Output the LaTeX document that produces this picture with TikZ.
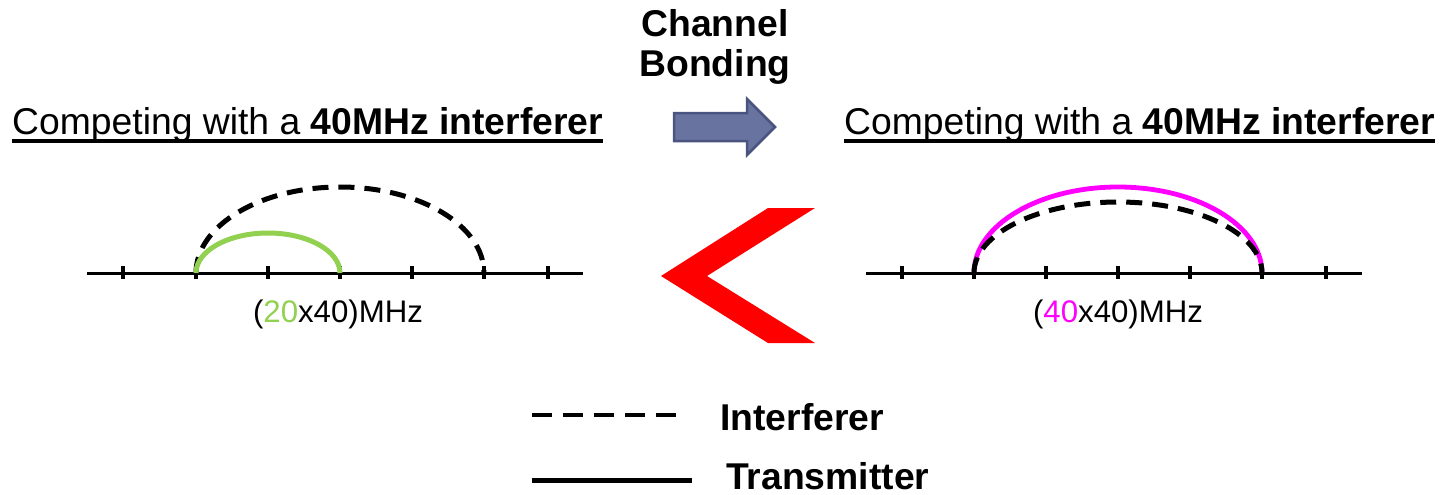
\documentclass[tikz,border=0pt]{standalone}
\usepackage{fontspec}
\setmainfont{Liberation Sans}
\definecolor{txgreen}{RGB}{146,208,80}
\definecolor{txmag}{RGB}{255,0,255}
\definecolor{arrfill}{RGB}{104,115,160}
\definecolor{arrdraw}{RGB}{74,84,126}
\tikzset{
  big/.style={font=\fontsize{37.3}{44}\selectfont, inner sep=0pt},
  small/.style={font=\fontsize{31.2}{36}\selectfont, inner sep=0pt},
  axisline/.style={line width=3pt},
  tick/.style={line width=3.8pt},
  interf/.style={line width=5pt, dash pattern=on 16pt off 10pt},
  ulinestyle/.style={line width=3.8pt},
}
\begin{document}
\begin{tikzpicture}[x=1pt,y=-1pt]
\useasboundingbox (0,0) rectangle (1443,495);

% titles
\node[big, anchor=base west] (ttlL) at (12,134) {Competing with a \textbf{40MHz interferer}};
\draw[ulinestyle] ([yshift=-7pt]ttlL.base west) -- ([yshift=-7pt]ttlL.base east);
\node[big, anchor=base west] (ttlR) at (844,134) {Competing with a \textbf{40MHz interferer}};
\draw[ulinestyle] ([yshift=-7pt]ttlR.base west) -- ([yshift=-7pt]ttlR.base east);

% channel bonding
\node[big, anchor=base] (cb1) at (715,37) {\textbf{Channel}};
\node[big, anchor=base] (cb2) at (715,77) {\textbf{Bonding}};
\draw[fill=arrfill, draw=arrdraw, line width=2.5pt, line join=miter]
  (674,113) -- (747,113) -- (747,99) -- (775,127) -- (747,155) -- (747,141) -- (674,141) -- cycle;

% red chevron
\fill[red] (768,208) -- (815,208) -- (707,276) -- (815,343) -- (768,343) -- (661,276) -- cycle;

% left axis
\draw[axisline] (87,273) -- (583,273);
\foreach \x in {123,196,268,340,412,484,548} \draw[tick] (\x,266) -- (\x,279);
\draw[interf] (196,273) arc[start angle=180, end angle=0, x radius=144pt, y radius=86pt];
\draw[txgreen, line width=5pt] (196,273) arc[start angle=180, end angle=0, x radius=72pt, y radius=40pt];
\node[small, anchor=base] (lblL) at (338,322) {(\textcolor{txgreen}{20}x40)MHz};

% right axis
\draw[axisline] (866,273) -- (1362,273);
\foreach \x in {902,974,1046,1118,1190,1262,1326} \draw[tick] (\x,266) -- (\x,279);
\draw[txmag, line width=4.8pt] (974,273) arc[start angle=180, end angle=0, x radius=144pt, y radius=86pt];
\draw[interf] (974,273) arc[start angle=180, end angle=0, x radius=144pt, y radius=71pt];
\node[small, anchor=base] (lblR) at (1118,322) {(\textcolor{txmag}{40}x40)MHz};

% legend
\coordinate (l1a) at (532,415);
\coordinate (l1b) at (677,415);
\coordinate (l2a) at (532,480);
\coordinate (l2b) at (692,480);
\draw[line width=4.8pt, dash pattern=on 20pt off 11pt] (l1a) -- (l1b);
\draw[line width=5pt] (l2a) -- (l2b);
\node[big, anchor=base west] (legI) at (720,430) {\textbf{Interferer}};
\node[big, anchor=base west] (legT) at (726,489) {\textbf{Transmitter}};
\end{tikzpicture}
\end{document}
